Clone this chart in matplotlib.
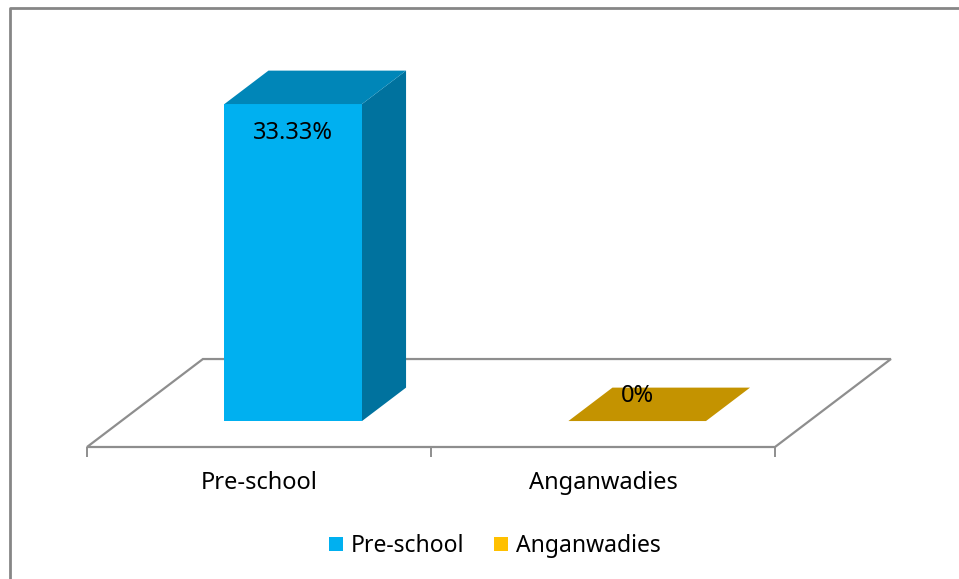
import matplotlib.pyplot as plt
from matplotlib.patches import Polygon, Rectangle, Patch
from matplotlib.lines import Line2D

plt.rcParams['font.family'] = ['Noto Sans', 'DejaVu Sans']

# data
categories = ["Pre-school", "Anganwadies"]
values = [33.33, 0.0]
value_labels = ["33.33%", "0%"]
front_colors = ["#00B0F0", "#FFC000"]
top_colors = ["#0086B8", "#C49300"]
side_colors = ["#00729E", "#A67C00"]

# fake 3d geometry (in data units)
DX, DY = 0.337, 9.25      # full floor depth offset
D0, D1 = 0.295, 0.675     # bar depth range
WIDTH = 0.4
GRAY = "#8E8E8E"

fig = plt.figure(figsize=(9.59, 5.79), dpi=100)
ax = fig.add_axes([87 / 959, 132 / 579, 688 / 959, 35 * 9.511 / 579])
ax.set_xlim(0, len(categories))
ax.set_ylim(0, 35)
for s in ax.spines.values():
    s.set_visible(False)
ax.set_yticks([])

# floor
n = len(categories)
floor = Polygon([(0, 0), (n, 0), (n + DX, DY), (DX, DY)], closed=True,
                facecolor="white", edgecolor=GRAY, lw=1.6, clip_on=False, zorder=1)
ax.add_patch(floor)

for i, v in enumerate(values):
    x0 = i + 0.5 - WIDTH / 2
    x1 = x0 + WIDTH
    if v > 0:
        ax.add_patch(Rectangle((x0 + D0 * DX, D0 * DY), WIDTH, v,
                               facecolor=front_colors[i], lw=0, clip_on=False, zorder=3))
        ax.add_patch(Polygon([(x1 + D0 * DX, D0 * DY), (x1 + D1 * DX, D1 * DY),
                              (x1 + D1 * DX, v + D1 * DY), (x1 + D0 * DX, v + D0 * DY)],
                             facecolor=side_colors[i], lw=0, clip_on=False, zorder=3))
    ax.add_patch(Polygon([(x0 + D0 * DX, v + D0 * DY), (x1 + D0 * DX, v + D0 * DY),
                          (x1 + D1 * DX, v + D1 * DY), (x0 + D1 * DX, v + D1 * DY)],
                         facecolor=top_colors[i], lw=0, clip_on=False, zorder=3))
    ty = v + D0 * DY - 3.0 if v > 5 else v + 5.4
    ax.text(i + 0.5 + D0 * DX, ty, value_labels[i], ha="center", va="center",
            fontsize=17, zorder=4)

# ticks and category labels
ax.set_xticks([i + 0.5 for i in range(n)], categories, fontsize=17)
ax.tick_params(axis="x", which="major", length=0, pad=17.5)
ax.set_xticks(range(n + 1), minor=True)
ax.tick_params(axis="x", which="minor", length=7, width=1.4, color=GRAY)

handles = [Patch(facecolor=c, label=l) for c, l in zip(front_colors, categories)]
fig.legend(handles=handles, loc="center", bbox_to_anchor=(495 / 959, 1 - 546 / 579),
           ncol=2, frameon=False, fontsize=16.5, handlelength=0.6, handleheight=0.6,
           handletextpad=0.35, columnspacing=1.3)

# chart border (top and left visible)
fig.add_artist(Line2D([9.5 / 959, 9.5 / 959, 1.0], [0.0, 1 - 7.5 / 579, 1 - 7.5 / 579],
                      transform=fig.transFigure, color="#868686", lw=2))

fig.savefig("out.png", dpi=100)
